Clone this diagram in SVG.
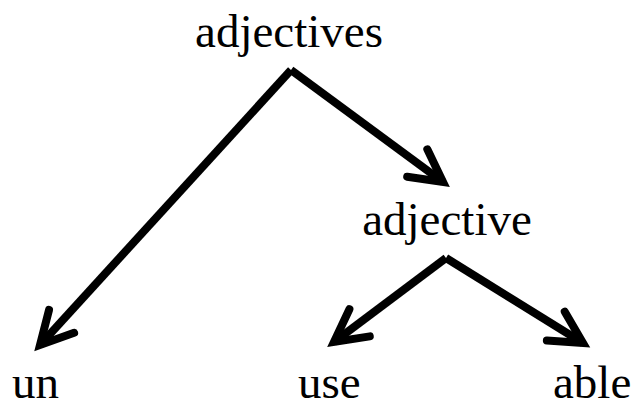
<svg xmlns="http://www.w3.org/2000/svg" width="632" height="403" viewBox="0 0 632 403">
<style>
text{font-family:"Liberation Serif","Times New Roman",serif;font-size:47px;fill:#000}
.e{fill:none;stroke:#000;stroke-width:8;stroke-linecap:butt;stroke-linejoin:miter}
</style>
<defs>
<marker id="ah" markerUnits="userSpaceOnUse" markerWidth="60" markerHeight="60" viewBox="-40 -30 50 60" refX="0" refY="0" orient="auto" overflow="visible">
<path d="M -32 -17 L 0 0 L -32 17" fill="none" stroke="#000" stroke-width="8" stroke-linecap="round" stroke-linejoin="miter"/>
</marker>
</defs>
<rect width="632" height="403" fill="#fff"/>
<g id="connectors">
<path class="e" d="M 291 70 L 40 345" marker-end="url(#ah)"/>
<path class="e" d="M 291 70 L 443 182" marker-end="url(#ah)"/>
<path class="e" d="M 446 258 L 334 342" marker-end="url(#ah)"/>
<path class="e" d="M 446 258 L 583 343" marker-end="url(#ah)"/>
</g>
<g id="n-adjectives"><text x="289" y="47" text-anchor="middle">adjectives</text></g>
<g id="n-adjective"><text x="447" y="235" text-anchor="middle">adjective</text></g>
<g id="n-un"><text x="12" y="398">un</text></g>
<g id="n-use"><text x="298" y="398">use</text></g>
<g id="n-able"><text x="553" y="398">able</text></g>
</svg>
